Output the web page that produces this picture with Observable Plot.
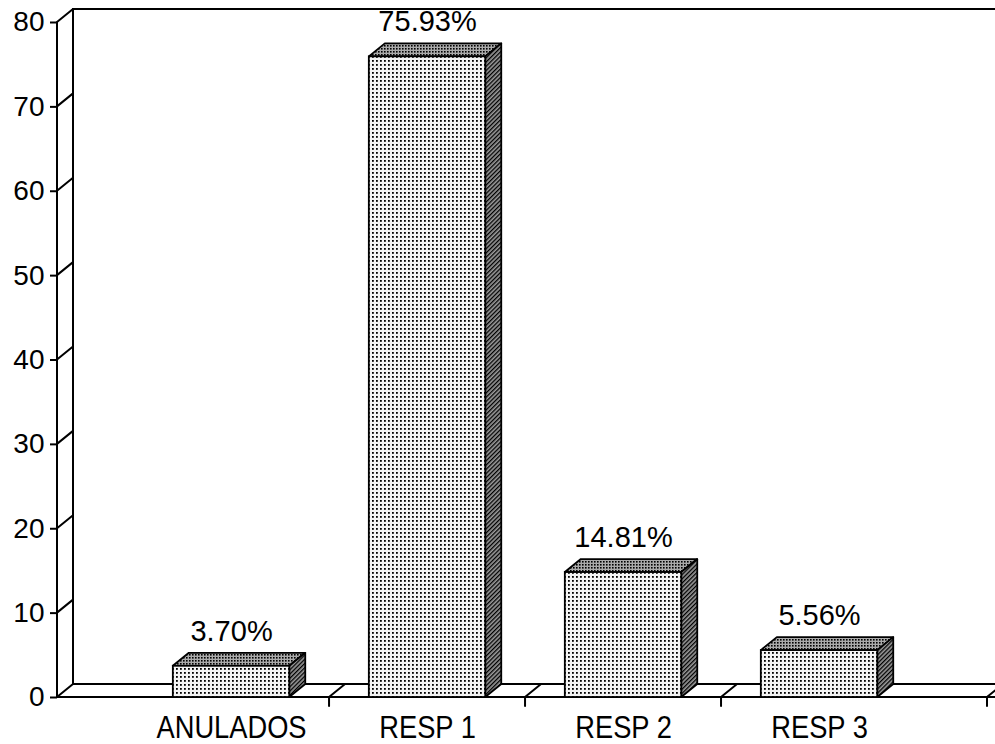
<!DOCTYPE html>
<html><head><meta charset="utf-8">
<script src="https://cdn.jsdelivr.net/npm/d3@7"></script>
<script src="https://cdn.jsdelivr.net/npm/@observablehq/plot@0.6"></script>
<style>body{margin:0;background:#fff;overflow:hidden}</style>
</head><body><div id="chart"></div>
<script>
// ---- data ----
const categories = ["ANULADOS", "RESP 1", "RESP 2", "RESP 3"];
const values = [3.70, 75.93, 14.81, 5.56];
const valueLabels = ["3.70%", "75.93%", "14.81%", "5.56%"];
const yTicks = [0, 10, 20, 30, 40, 50, 60, 70, 80];

const data = categories.map((c, i) => ({i, category: c, value: values[i], label: valueLabels[i]}));

// ---- layout ----
const W = 995, H = 744;
const DX = 16, DY = -13;      // 3D depth offset (px)
const HALF = 0.297;           // half bar width, in band units
const xDomain = [-0.888, 3.857];
const boundaries = [0.5, 1.5, 2.5, xDomain[1]];
const FONT = "'Liberation Sans', Arial, Helvetica, sans-serif";

function frameMark(index, scales, vals, dims) {
  const {x, y} = scales;
  const xL = dims.marginLeft, xR = dims.width;
  const y0 = y(0), yTop = y(d3.max(yTicks));
  const g = d3.create("svg:g")
    .attr("fill", "none").attr("stroke", "black")
    .attr("stroke-width", 2).attr("stroke-linecap", "round");
  const p = d3.path();
  // front y axis line
  p.moveTo(xL, y0); p.lineTo(xL, yTop);
  // back wall vertical + top edge
  p.moveTo(xL + DX, y0 + DY); p.lineTo(xL + DX, yTop + DY); p.lineTo(xR, yTop + DY);
  // floor front & back edges
  p.moveTo(xL, y0); p.lineTo(xR, y0);
  p.moveTo(xL + DX, y0 + DY); p.lineTo(xR, y0 + DY);
  // wall diagonals at each y tick
  for (const t of yTicks) { p.moveTo(xL, y(t)); p.lineTo(xL + DX, y(t) + DY); }
  // floor diagonals & ticks at category boundaries
  for (const b of boundaries) {
    p.moveTo(x(b), y0); p.lineTo(x(b) + DX, y0 + DY);
    p.moveTo(x(b), y0); p.lineTo(x(b), y0 + 9);
  }
  g.append("path").attr("d", p.toString());
  return g.node();
}

function barsMark(index, scales, vals, dims) {
  const {x, y} = scales;
  const g = d3.create("svg:g");
  const defs = g.append("defs");
  const pf = defs.append("pattern").attr("id", "pat-front").attr("patternUnits", "userSpaceOnUse")
    .attr("width", 4).attr("height", 4);
  pf.append("rect").attr("width", 4).attr("height", 4).attr("fill", "#f4f4f4");
  pf.append("rect").attr("width", 1.8).attr("height", 1.8).attr("fill", "#000");
  const pt = defs.append("pattern").attr("id", "pat-top").attr("patternUnits", "userSpaceOnUse")
    .attr("width", 3).attr("height", 3);
  pt.append("rect").attr("width", 3).attr("height", 3).attr("fill", "#aaaaaa");
  pt.append("rect").attr("width", 1.6).attr("height", 1.6).attr("fill", "#000");
  const ps = defs.append("pattern").attr("id", "pat-side").attr("patternUnits", "userSpaceOnUse")
    .attr("width", 3).attr("height", 3).attr("patternTransform", "rotate(45)");
  ps.append("rect").attr("width", 3).attr("height", 3).attr("fill", "#9a9a9a");
  ps.append("rect").attr("width", 1.3).attr("height", 3).attr("fill", "#000");

  const y0 = y(0);
  for (const d of data) {
    const x1 = x(d.i - HALF), x2 = x(d.i + HALF), yv = y(d.value);
    const pts = a => a.map(q => q.join(",")).join(" ");
    g.append("polygon")
      .attr("points", pts([[x1, yv], [x2, yv], [x2 + DX, yv + DY], [x1 + DX, yv + DY]]))
      .attr("fill", "url(#pat-top)").attr("stroke", "black").attr("stroke-width", 1.8).attr("stroke-linejoin", "round");
    g.append("polygon")
      .attr("points", pts([[x2, yv], [x2, y0], [x2 + DX, y0 + DY], [x2 + DX, yv + DY]]))
      .attr("fill", "url(#pat-side)").attr("stroke", "black").attr("stroke-width", 1.8).attr("stroke-linejoin", "round");
    g.append("rect")
      .attr("x", x1).attr("y", yv).attr("width", x2 - x1).attr("height", y0 - yv)
      .attr("fill", "url(#pat-front)").attr("stroke", "black").attr("stroke-width", 1.8);
  }
  return g.node();
}

const chart = Plot.plot({
  width: W,
  height: H,
  marginLeft: 57,
  marginRight: W - 987,
  marginTop: 22,
  marginBottom: 47,
  style: {fontFamily: FONT, background: "white", color: "black", overflow: "visible"},
  x: {type: "linear", domain: xDomain},
  y: {domain: [0, 80]},
  marks: [
    frameMark,
    barsMark,
    Plot.axisY({ticks: yTicks, tickSize: 7, tickPadding: 6, fontSize: 28, strokeWidth: 2, label: null}),
    Plot.axisX({ticks: [0, 1, 2, 3], tickFormat: i => categories[i], tickSize: 0, tickPadding: 18, fontSize: 31, label: null}),
    Plot.text(data, {x: "i", y: "value", text: "label", dy: -35, fontSize: 29, fill: "black"})
  ]
});
document.getElementById("chart").appendChild(chart);

// condense the category labels horizontally (narrow Helvetica look)
d3.select(chart).selectAll('g[aria-label="x-axis tick label"] text').each(function() {
  const t = this.getAttribute("transform") || "";
  this.setAttribute("transform", t + " scale(0.88,1)");
});
</script>
</body></html>
